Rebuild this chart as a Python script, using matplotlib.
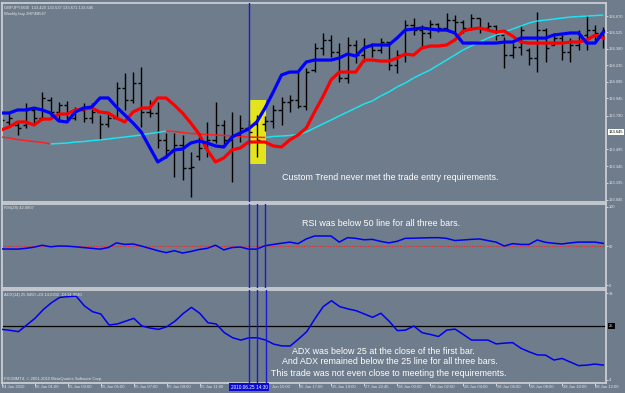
import matplotlib
matplotlib.use("Agg")
import matplotlib.pyplot as plt
from matplotlib.collections import LineCollection
from matplotlib.patches import Rectangle

plt.rcParams['font.family'] = ['Liberation Sans', 'DejaVu Sans']

# GBPJPY M30 bars (one entry per bar)
bar_open = [133.769, 133.734, 133.707, 133.707, 133.840, 133.769, 133.928, 133.822, 133.884, 133.769,
            133.840, 133.769, 133.822, 133.716, 133.769, 134.034, 133.928, 134.078, 133.822, 133.813,
            133.575, 133.487, 133.531, 133.328, 133.434, 133.504, 133.575, 133.707, 133.575, 133.619,
            133.681, 133.716, 133.716, 133.743, 133.840, 133.910, 133.928, 133.875, 134.193, 134.387,
            134.458, 134.352, 134.122, 134.414, 134.325, 134.405, 134.370, 134.440, 134.237, 134.325,
            134.590, 134.546, 134.520, 134.599, 134.564, 134.634, 134.617, 134.564, 134.652, 134.564,
            134.581, 134.502, 134.325, 134.396, 134.370, 134.299, 134.546, 134.414, 134.475, 134.352,
            134.414, 134.502, 134.546, 134.520]
bar_high = [133.796, 133.813, 133.734, 133.902, 133.866, 133.999, 133.955, 133.910, 133.919, 133.866,
            133.902, 133.902, 133.796, 133.813, 134.087, 134.166, 134.175, 134.219, 133.928, 133.910,
            133.637, 133.637, 133.619, 133.469, 133.601, 133.734, 133.910, 133.751, 133.822, 133.796,
            133.751, 133.796, 133.787, 133.884, 133.955, 133.972, 134.175, 134.211, 134.431, 134.520,
            134.502, 134.431, 134.484, 134.458, 134.475, 134.431, 134.475, 134.440, 134.370, 134.634,
            134.652, 134.590, 134.634, 134.608, 134.696, 134.679, 134.634, 134.687, 134.652, 134.617,
            134.590, 134.484, 134.431, 134.590, 134.387, 134.705, 134.564, 134.520, 134.502, 134.475,
            134.546, 134.679, 134.590, 134.573]
bar_low = [133.734, 133.707, 133.619, 133.681, 133.725, 133.751, 133.778, 133.751, 133.734, 133.751,
           133.734, 133.725, 133.575, 133.690, 133.778, 133.840, 133.902, 133.690, 133.778, 133.504,
           133.416, 133.248, 133.222, 133.071, 133.398, 133.425, 133.548, 133.513, 133.204, 133.557,
           133.531, 133.425, 133.654, 133.681, 133.707, 133.822, 133.857, 133.840, 134.175, 134.325,
           134.308, 134.087, 134.078, 134.255, 134.264, 134.308, 134.343, 134.193, 134.166, 134.264,
           134.502, 134.396, 134.475, 134.528, 134.546, 134.528, 134.520, 134.546, 134.520, 134.546,
           134.458, 134.211, 134.299, 134.325, 134.237, 134.175, 134.264, 134.414, 134.281, 134.264,
           134.370, 134.370, 134.458, 134.387]
bar_close = [133.751, 133.769, 133.681, 133.840, 133.769, 133.946, 133.822, 133.884, 133.769, 133.840,
             133.769, 133.822, 133.716, 133.769, 134.034, 133.928, 134.078, 133.822, 133.813, 133.575,
             133.487, 133.531, 133.328, 133.336, 133.504, 133.575, 133.707, 133.575, 133.619, 133.681,
             133.645, 133.575, 133.743, 133.840, 133.910, 133.928, 133.875, 134.175, 134.387, 134.458,
             134.352, 134.122, 134.414, 134.325, 134.405, 134.370, 134.440, 134.237, 134.325, 134.590,
             134.546, 134.520, 134.599, 134.564, 134.634, 134.617, 134.564, 134.652, 134.564, 134.581,
             134.502, 134.325, 134.396, 134.546, 134.299, 134.546, 134.387, 134.475, 134.352, 134.414,
             134.502, 134.546, 134.520, 134.546]

# "Custom Trend" indicator lines
trend_blue = [133.813, 133.813, 133.840, 133.840, 133.857, 133.840, 133.813, 133.743, 133.734, 133.822,
              133.857, 133.866, 133.946, 133.946, 133.866, 133.796, 133.725, 133.645, 133.513, 133.381,
              133.425, 133.487, 133.495, 133.548, 133.566, 133.548, 133.522, 133.513, 133.601, 133.637,
              133.672, 133.734, 133.857, 133.999, 134.149, 134.175, 134.175, 134.264, 134.281, 134.281,
              134.281, 134.299, 134.334, 134.317, 134.387, 134.414, 134.414, 134.414, 134.475, 134.546,
              134.555, 134.564, 134.555, 134.546, 134.546, 134.520, 134.431, 134.431, 134.431, 134.431,
              134.431, 134.440, 134.440, 134.475, 134.475, 134.475, 134.475, 134.502, 134.511, 134.520,
              134.520, 134.431, 134.431, 134.528]
trend_red = [133.663, 133.690, 133.734, 133.734, 133.707, 133.760, 133.760, 133.804, 133.804, 133.840,
             133.849, 133.857, 133.822, 133.813, 133.769, 133.734, 133.822, 133.857, 133.857, 133.946,
             133.946, 133.884, 133.813, 133.725, 133.628, 133.487, 133.381, 133.416, 133.487, 133.504,
             133.557, 133.557, 133.557, 133.522, 133.513, 133.575, 133.619, 133.681, 133.822, 133.955,
             134.105, 134.175, 134.175, 134.175, 134.281, 134.281, 134.272, 134.272, 134.299, 134.334,
             134.325, 134.387, 134.405, 134.405, 134.414, 134.458, 134.537, 134.555, 134.564, 134.546,
             134.528, 134.537, 134.493, 134.440, 134.431, 134.431, 134.431, 134.431, 134.431, 134.440,
             134.440, 134.458, 134.502, 134.475]
# slow moving average (cyan when rising, red when falling)
slow_ma = [133.601, 133.593, 133.579, 133.570, 133.561, 133.553, 133.540, 133.544, 133.548, 133.557,
           133.561, 133.570, 133.575, 133.584, 133.593, 133.601, 133.610, 133.619, 133.632, 133.641,
           133.654, 133.650, 133.641, 133.632, 133.628, 133.623, 133.619, 133.615, 133.610, 133.606,
           133.601, 133.599, 133.597, 133.606, 133.610, 133.615, 133.623, 133.645, 133.681, 133.716,
           133.751, 133.787, 133.822, 133.857, 133.893, 133.919, 133.963, 133.999, 134.043, 134.078,
           134.122, 134.158, 134.193, 134.237, 134.281, 134.325, 134.370, 134.405, 134.440, 134.475,
           134.502, 134.528, 134.555, 134.581, 134.608, 134.626, 134.634, 134.643, 134.652, 134.661,
           134.665, 134.670, 134.674, 134.679]

rsi = [46.2, 46.1, 46.0, 47.0, 48.5, 51.0, 49.0, 50.0, 49.8, 49.0,
       48.0, 47.0, 46.0, 48.0, 54.0, 52.0, 52.6, 50.0, 47.0, 44.0,
       41.5, 44.0, 41.0, 43.0, 45.5, 47.0, 51.0, 45.0, 48.0, 48.7,
       46.0, 46.0, 50.4, 52.0, 53.5, 55.0, 53.0, 59.0, 62.8, 62.8,
       62.8, 55.0, 60.7, 59.8, 58.0, 58.5, 56.0, 54.0, 56.0, 59.8,
       60.0, 60.3, 60.6, 60.7, 59.8, 57.0, 57.7, 58.5, 59.0, 57.0,
       55.0, 50.0, 53.0, 52.0, 52.0, 57.7, 54.7, 53.5, 52.6, 54.0,
       55.0, 55.0, 55.0, 53.4]
adx = [23.8, 23.4, 22.9, 25.5, 28.1, 31.5, 34.2, 36.3, 36.6, 36.8,
       33.0, 30.7, 29.8, 25.5, 25.9, 27.0, 28.1, 25.1, 24.3, 23.8,
       24.8, 27.0, 30.0, 32.4, 30.1, 26.4, 25.9, 22.5, 20.5, 19.6,
       20.5, 20.5, 19.6, 18.0, 17.3, 17.3, 20.0, 22.9, 28.0, 32.7,
       35.0, 32.7, 31.8, 31.1, 29.8, 28.5, 30.1, 27.0, 23.3, 23.5,
       25.1, 22.5, 21.8, 21.0, 23.5, 23.9, 21.8, 19.6, 19.6, 19.6,
       18.1, 18.4, 18.6, 16.4, 15.0, 13.8, 13.7, 11.8, 12.4, 11.0,
       9.6, 9.8, 10.2, 9.8]

price_ticks = [134.670, 134.525, 134.380, 134.235, 134.090, 133.945, 133.790,
               133.495, 133.345, 133.195, 133.045]
price_labels = ['134.670', '134.525', '134.380', '134.235', '134.090', '133.945', '133.790',
                '133.495', '133.345', '133.195', '133.045']
cursor_price = 133.645
time_ticks = [0, 4, 8, 12, 16, 20, 24, 28, 32, 36, 40, 44, 48, 52, 56, 60, 64, 68, 72]
time_labels = ['24 Jun 2010', '25 Jun 01:00', '25 Jun 03:00', '25 Jun 05:00', '25 Jun 07:00',
               '25 Jun 09:00', '25 Jun 11:00', '', 'Jun 15:00', '25 Jun 17:00',
               '25 Jun 19:00', '27 Jun 22:45', '28 Jun 00:00', '28 Jun 02:00', '28 Jun 04:00',
               '28 Jun 06:00', '28 Jun 08:00', '28 Jun 10:00', '28 Jun 12:00']
trade_bars = [30, 31, 32]
cursor_time = '2010.06.25 14:30'

BG = '#6e7c8c'
FRAME = '#c9cdd2'
LABEL = '#e4e6e8'
VLINE = '#1a1ad8'
TINY = 3.0
AXLAB = 2.9
W, H = 625, 393
x = list(range(len(bar_close)))


def fpos(px, py):
    return px / W, 1 - py / H


def style_panel(ax):
    ax.set_facecolor(BG)
    for s in ax.spines.values():
        s.set_color(FRAME)
        s.set_linewidth(1.3)
    ax.set_xlim(0.12, 73.33)
    ax.yaxis.tick_right()
    ax.tick_params(axis='y', colors=LABEL, labelsize=AXLAB, length=1.5, width=0.6, pad=0.5)
    ax.tick_params(axis='x', bottom=False, labelbottom=False)


fig = plt.figure(figsize=(6.25, 3.93), dpi=100, facecolor=BG)
ax_main = fig.add_axes([2 / W, 1 - 202 / H, 604 / W, 199 / H])
ax_rsi = fig.add_axes([2 / W, 1 - 288 / H, 604 / W, 84 / H])
ax_adx = fig.add_axes([2 / W, 1 - 383 / H, 604 / W, 93 / H])
for ax in (ax_main, ax_rsi, ax_adx):
    style_panel(ax)

# ---- main price window ----
ax_main.set_ylim(133.027, 134.785)
ax_main.set_yticks(price_ticks)
ax_main.set_yticklabels(price_labels)

i0 = trade_bars[0]
ax_main.add_patch(Rectangle((i0 + 0.15, 133.363), 1.95, 0.565, facecolor='#e4e41e',
                            edgecolor='none', zorder=1))
ax_main.vlines(x, bar_low, bar_high, color='black', lw=1.0, zorder=2)
ax_main.hlines(bar_open, [i - 0.38 for i in x], x, color='black', lw=1.0, zorder=2)
ax_main.hlines(bar_close, x, [i + 0.38 for i in x], color='black', lw=1.0, zorder=2)

segs = [[(i, slow_ma[i]), (i + 1, slow_ma[i + 1])] for i in range(len(slow_ma) - 1)]
cols = ['#ff2020' if slow_ma[i + 1] <= slow_ma[i] else '#19e6f0' for i in range(len(slow_ma) - 1)]
ax_main.add_collection(LineCollection(segs, colors=cols, linewidths=1.1, zorder=3))
ax_main.plot(x, trend_red, color='#ff0000', lw=2.3, zorder=4)
ax_main.plot(x, trend_blue, color='#0000ff', lw=2.3, zorder=5)
ax_main.axvline(trade_bars[0], color=VLINE, lw=1.0, zorder=6)

# ---- RSI window ----
ax_rsi.set_ylim(-3.8, 103.8)
ax_rsi.set_yticks([0, 50, 100])
ax_rsi.set_yticklabels(['0', '50', '100'])
ax_rsi.axhline(50, color='#e03030', lw=0.8, ls=(0, (1.2, 1.2)), zorder=2)
ax_rsi.plot(x, rsi, color='#0000ee', lw=1.1, zorder=3)
for b in trade_bars:
    ax_rsi.axvline(b, color=VLINE, lw=1.0, zorder=4)

# ---- ADX window ----
ax_adx.set_ylim(2.8, 39.2)
ax_adx.set_yticks([4, 38])
ax_adx.set_yticklabels(['4', '38'])
ax_adx.axhline(25, color='black', lw=0.9, zorder=2)
ax_adx.plot(x, adx, color='#0000ee', lw=1.1, zorder=3)
for b in trade_bars:
    ax_adx.axvline(b, color=VLINE, lw=1.0, zorder=4)
ax_adx.set_xticks(time_ticks)
ax_adx.tick_params(axis='x', bottom=True, labelbottom=False, length=2, width=0.6, color=LABEL)
for t, lab in zip(time_ticks, time_labels):
    if not lab:
        continue
    tx = t + 0.05 if not lab.startswith('Jun') else t + 0.75
    ax_adx.text(tx, -0.045, lab, transform=ax_adx.get_xaxis_transform(), fontsize=TINY,
                color=LABEL, ha='left', va='center', clip_on=False)
ax_adx.text(trade_bars[0], -0.045, cursor_time, transform=ax_adx.get_xaxis_transform(),
            fontsize=TINY + 0.4, color='white', ha='center', va='center', clip_on=False, zorder=10,
            bbox=dict(facecolor='#0a0ad0', edgecolor='none', pad=1.0))

# ---- labels drawn by the terminal ----
small = dict(fontsize=TINY, color=LABEL, ha='left', va='center')
fig.text(*fpos(4, 8), 'GBPJPY,M30  133.420 133.537 133.671 133.646', **small)
fig.text(*fpos(4, 13.5), 'Weekly buy 2HP4B547', **small)
fig.text(*fpos(4, 208), 'RSI(28) 42.0807', **small)
fig.text(*fpos(4, 295), 'ADX(14) 25.8450 +DI:14.6202 -DI:14.9040', **small)
fig.text(*fpos(4, 379), 'FXCMMT4, \u00a9 2001-2010 MetaQuotes Software Corp.', **small)
fig.text(*fpos(608.5, 132), f'{cursor_price:.3f}', fontsize=AXLAB, color='black', ha='left',
         va='center', bbox=dict(facecolor='white', edgecolor='none', pad=0.6))
fig.text(*fpos(609, 326), '25', fontsize=AXLAB, color=LABEL, ha='left', va='center',
         bbox=dict(facecolor='black', edgecolor='none', pad=0.9))

# ---- annotations ----
note = dict(fontsize=6.4, color='white', ha='center', va='center')
fig.text(*fpos(390, 177), 'Custom Trend never met the trade entry requirements.', **note)
fig.text(*fpos(381, 224), 'RSI was below 50 line for all three bars.', **note)
fig.text(*fpos(383, 352), 'ADX was below 25 at the close of the first bar.', **note)
fig.text(*fpos(390, 362), 'And ADX remained below the 25 line for all three bars.', **note)
fig.text(*fpos(389, 374), 'This trade was not even close to meeting the requirements.', **note)

fig.savefig('out.png', dpi=100, facecolor=BG)
